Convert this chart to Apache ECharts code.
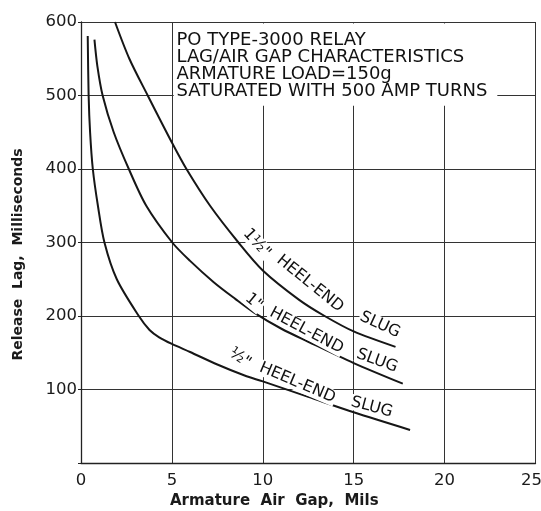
<!DOCTYPE html>
<html>
<head>
<meta charset="utf-8">
<script src="https://cdn.jsdelivr.net/npm/echarts@6/dist/echarts.min.js"></script>
<style>
html,body{margin:0;padding:0;background:#fff;overflow:hidden;}
#chart{width:541px;height:511px;}
</style>
</head>
<body>
<div id="chart"></div>
<script>
// Data (Armature air gap, mils -> release lag, ms)
var halfGap = [0.37, 0.42, 0.5, 0.65, 0.93, 1.29, 1.97, 3.18, 3.77, 4.3, 5, 6, 7.5, 9, 10, 12.5, 15, 18.1];
var halfLag = [581, 500, 450, 400, 350, 300, 250, 200, 181, 171, 162, 151, 134, 119, 111, 90, 69, 45];

var oneGap = [0.74, 0.9, 1.19, 1.8, 2.63, 3.59, 5.02, 6, 7.3, 8.5, 9.5, 11, 12.5, 15, 17.7];
var oneLag = [576, 540, 500, 450, 400, 350, 300, 275, 246, 223, 205, 183, 165, 136, 108];

var oneHalfGap = [1.87, 2.66, 3.67, 5, 5.8, 7.1, 8.66, 10, 12, 13.4, 15, 17.3];
var oneHalfLag = [600, 550, 500, 436, 400, 350, 300, 262, 222, 200, 179, 158];

var xTicks = [0, 5, 10, 15, 20, 25];
var yTicks = [100, 200, 300, 400, 500, 600];

var titleLines = ['PO TYPE-3000 RELAY', 'LAG/AIR GAP CHARACTERISTICS', 'ARMATURE LOAD=150g', 'SATURATED WITH 500 AMP TURNS'];

// curve annotations: [text, gap, lag, rotation deg]
var curveLabels = [
  ['1\u00BD"', 9.67, 299, 48],
  ['HEEL-END', 12.6, 244, 39],
  ['SLUG', 16.45, 188, 25],
  ['1"', 9.51, 219, 40],
  ['HEEL-END', 12.4, 180, 28],
  ['SLUG', 16.29, 139, 20],
  ['\u00BD"', 8.74, 143, 35],
  ['HEEL-END', 11.9, 109, 23],
  ['SLUG', 16.0, 76, 15]
];

function zip(a, b) { return a.map(function (v, i) { return [v, b[i]]; }); }

var FONT = 'DejaVu Sans';
var chart = echarts.init(document.getElementById('chart'), null, {renderer: 'canvas', width: 541, height: 511});

var lineStyle = {color: '#161616', width: 2};
function mk(name, gx, ly) {
  return {
    name: name, type: 'line', data: zip(gx, ly), showSymbol: false, symbol: 'none',
    smooth: 0.3, lineStyle: lineStyle, z: 5, silent: true, animation: false
  };
}

chart.setOption({
  animation: false,
  backgroundColor: '#ffffff',
  grid: {left: 81, right: 5.5, top: 22, bottom: 48, containLabel: false, outerBoundsMode: 'none'},
  xAxis: {
    type: 'value', min: 0, max: 25, interval: 5,
    name: 'Armature  Air  Gap,  Mils', nameLocation: 'middle', nameGap: 29,
    nameTextStyle: {fontFamily: FONT, fontSize: 15, fontWeight: 'bold', color: '#1a1a1a', padding: [0, 68, 0, 0]},
    axisLine: {show: true, lineStyle: {color: '#222', width: 1.3}},
    axisTick: {show: false},
    axisLabel: {fontFamily: FONT, fontSize: 16.5, color: '#1a1a1a', margin: 9,
      formatter: function (v) { return v === xTicks[xTicks.length - 1] ? '{m|' + v + '}' : String(v); },
      rich: {m: {fontFamily: FONT, fontSize: 16.5, color: '#1a1a1a', padding: [0, 8, 0, 0]}}},
    splitLine: {show: true, lineStyle: {color: '#333', width: 1}}
  },
  yAxis: {
    type: 'value', min: 0, max: 600, interval: 100,
    name: 'Release  Lag,  Milliseconds', nameLocation: 'middle', nameGap: 56,
    nameTextStyle: {fontFamily: FONT, fontSize: 14, fontWeight: 'bold', color: '#1a1a1a', padding: [0, 24, 0, 0]},
    axisLine: {show: true, lineStyle: {color: '#222', width: 1.3}},
    axisTick: {show: true, length: 3, lineStyle: {color: '#222'}},
    axisLabel: {fontFamily: FONT, fontSize: 16.5, color: '#1a1a1a', margin: 4,
      formatter: function (v) { return yTicks.indexOf(v) >= 0 ? String(v) : ''; }},
    splitLine: {show: true, lineStyle: {color: '#333', width: 1}}
  },
  series: [
    mk('1/2" heel-end slug', halfGap, halfLag),
    mk('1" heel-end slug', oneGap, oneLag),
    mk('1 1/2" heel-end slug', oneHalfGap, oneHalfLag)
  ]
});

function px(x, y) { return chart.convertToPixel({gridIndex: 0}, [x, y]); }

var graphics = [];
// white panel behind the title block (interrupts grid lines, as in the reference)
var p1 = px(5.1, 598), p2 = px(22.9, 486);
graphics.push({type: 'rect', shape: {x: p1[0], y: p1[1], width: p2[0] - p1[0], height: p2[1] - p1[1]},
  style: {fill: '#fff'}, z: 3, silent: true});
var tp = px(5.25, 0);
titleLines.forEach(function (t, i) {
  graphics.push({type: 'text', x: tp[0], y: 40 + i * 17.2, z: 10, silent: true,
    style: {text: t, fontFamily: FONT, fontSize: 18, fill: '#111', textVerticalAlign: 'middle', textAlign: 'left',
      verticalAlign: 'middle', align: 'left'}});
});
curveLabels.forEach(function (c) {
  var p = px(c[1], c[2]);
  graphics.push({type: 'text', x: p[0], y: p[1], rotation: -c[3] * Math.PI / 180, z: 10, silent: true,
    style: {text: c[0], fontFamily: FONT, fontSize: 16, fill: '#111', align: 'center', verticalAlign: 'middle',
      textAlign: 'center', textVerticalAlign: 'middle', backgroundColor: '#fff', padding: [0, 1]}});
});
chart.setOption({graphic: graphics});
</script>
</body>
</html>
